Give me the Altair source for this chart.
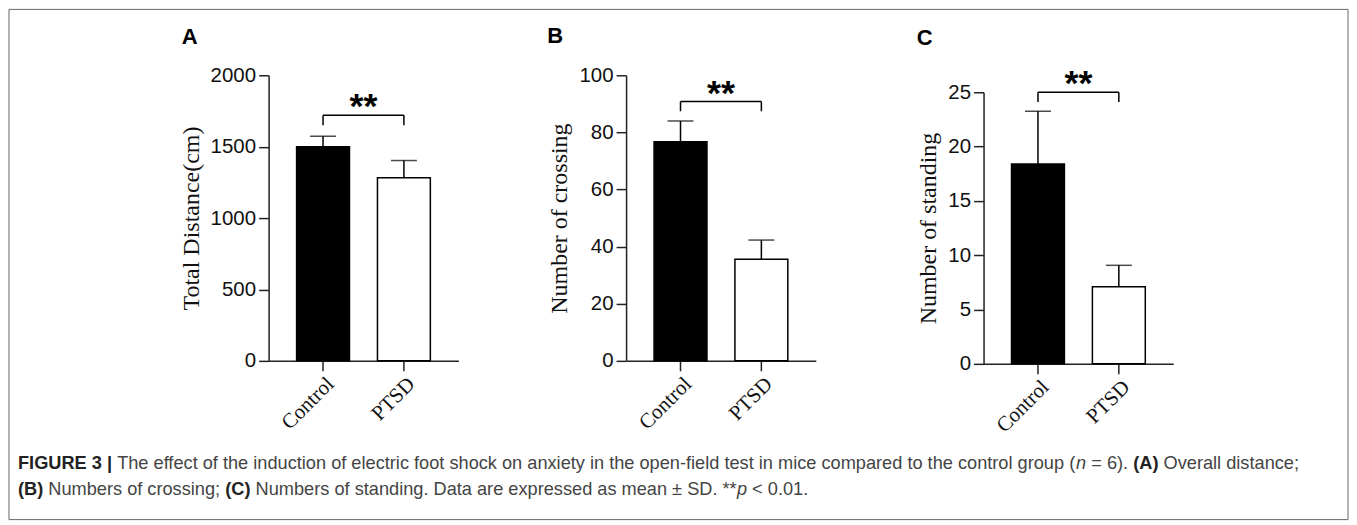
import altair as alt
import pandas as pd

groups = ["Control", "PTSD"]
bar_fill = ["black", "white"]

a_mean = [1500, 1282]
a_sd = [73, 121]
b_mean = [76.7, 35.6]
b_sd = [7.3, 6.7]
c_mean = [18.4, 7.1]
c_sd = [4.85, 1.97]

a_ticks = [0, 500, 1000, 1500, 2000]
b_ticks = [0, 20, 40, 60, 80, 100]
c_ticks = [0, 5, 10, 15, 20, 25]

# significance brackets: (line level, tick bottom)
a_bracket = [1720, 1650]
b_bracket = [90.8, 87.4]
c_bracket = [25.0, 24.1]
star_text = "**"

caption_line1 = [
    ("FIGURE 3 |", "bold", "normal"),
    (" The effect of the induction of electric foot shock on anxiety in the open-field test in mice compared to the control group (", "normal", "normal"),
    ("n", "normal", "italic"),
    (" = 6). ", "normal", "normal"),
    ("(A)", "bold", "normal"),
    (" Overall distance;", "normal", "normal"),
]
caption_line2 = [
    ("(B)", "bold", "normal"),
    (" Numbers of crossing; ", "normal", "normal"),
    ("(C)", "bold", "normal"),
    (" Numbers of standing. Data are expressed as mean \u00b1 SD. **", "normal", "normal"),
    ("p", "normal", "italic"),
    (" < 0.01.", "normal", "normal"),
]

# Arial / Liberation Sans advance widths (per 1000 em), to set caption segments side by side
REG = {" ": 278, "(": 333, ")": 333, "*": 389, ",": 278, "-": 333, ".": 278, ";": 278,
       "<": 584, "=": 584, "|": 260, "\u00b1": 549,
       "a": 556, "b": 556, "c": 500, "d": 556, "e": 556, "f": 278, "g": 556, "h": 556,
       "i": 222, "j": 222, "k": 500, "l": 222, "m": 833, "n": 556, "o": 556, "p": 556,
       "q": 556, "r": 333, "s": 500, "t": 278, "u": 556, "v": 500, "w": 722, "x": 500,
       "y": 500, "z": 500,
       "A": 667, "B": 667, "C": 722, "D": 722, "E": 667, "F": 611, "G": 778, "H": 722,
       "I": 278, "N": 722, "O": 778, "P": 667, "R": 722, "S": 667, "T": 611, "U": 722}
for d in "0123456789":
    REG[d] = 556
BOLD = dict(REG)
BOLD.update({"A": 722, "B": 722, "C": 722, "|": 280, "I": 278, "G": 778, "U": 722, "R": 722, "E": 667, "F": 611})
CAP_FONT = "Liberation Sans"


def em_width(text, weight):
    table = BOLD if weight == "bold" else REG
    return sum(table.get(ch, 556) for ch in text) / 1000.0


line1_em = sum(em_width(t, w) for t, w, s in caption_line1)
CAP_FS = 1283.0 / line1_em

# panel A's plot origin on the page is (268, 74)
OX, OY = 268, 74


def caption_layers():
    layers = []
    for segs, py in ((caption_line1, 463), (caption_line2, 489)):
        cursor = 17.0
        for text, weight, style in segs:
            lead = len(text) - len(text.lstrip(" "))
            x0 = cursor + em_width(" " * lead, weight) * CAP_FS
            cursor += em_width(text, weight) * CAP_FS
            layers.append(
                alt.Chart(pd.DataFrame({"t": [text.strip()]}))
                .mark_text(align="left", baseline="middle", font=CAP_FONT,
                           fontSize=CAP_FS, fontWeight=weight, fontStyle=style,
                           color="#222" if weight == "bold" else "#444")
                .encode(text="t:N", x=alt.value(x0 - OX), y=alt.value(py - OY))
            )
    border = (
        alt.Chart(pd.DataFrame({"k": [0]}))
        .mark_rect(fillOpacity=0, stroke="#666", strokeWidth=1)
        .encode(x=alt.value(8 - OX), x2=alt.value(1349 - OX),
                y=alt.value(8 - OY), y2=alt.value(519 - OY))
    )
    return [border] + layers


def panel(letter, letter_dx, letter_dy, ytitle, mean, sd, ymax, ticks, bracket, height, rng, extra=None):
    df = pd.DataFrame({
        "group": groups,
        "mean": mean,
        "upper": [m + s for m, s in zip(mean, sd)],
        "fill": bar_fill,
    })
    xscale = alt.Scale(domain=groups, paddingInner=0.346, paddingOuter=0.346)
    xaxis = alt.Axis(title=None, labelAngle=-45, labelAlign="right", labelBaseline="top",
                     labelFont="Liberation Serif", labelFontSize=21, labelColor="#111",
                     labelPadding=2, tickSize=10, tickWidth=1.5, tickColor="#222",
                     domainWidth=1.5, domainColor="#222", grid=False)
    yscale = alt.Scale(domain=[0, ymax], range=rng, nice=False, zero=True)
    yaxis = alt.Axis(title=ytitle, values=ticks, format="d", titleFont="Liberation Serif",
                     titleFontSize=24, titleFontWeight="normal", titleColor="#111",
                     titlePadding=7, labelFont="Liberation Sans", labelFontSize=20.5,
                     labelColor="#111", labelPadding=3, tickSize=10, tickWidth=1.5,
                     tickColor="#222", domainWidth=1.5, domainColor="#222", grid=False)

    def X(f):
        return alt.X(f, sort=groups, scale=xscale, axis=xaxis)

    def Y(f):
        return alt.Y(f, scale=yscale, axis=yaxis)

    base = alt.Chart(df)
    bars = base.mark_bar(stroke="black", strokeWidth=1.5).encode(
        x=X("group:N"), y=Y("mean:Q"), fill=alt.Fill("fill:N", scale=None))
    stems = base.mark_rule(color="black", strokeWidth=1.5).encode(
        x=X("group:N"), y=Y("mean:Q"), y2="upper:Q")
    caps = base.mark_tick(color="black", thickness=1.5, size=26).encode(
        x=X("group:N"), y=Y("upper:Q"))

    bdf = pd.DataFrame({"g1": [groups[0]], "g2": [groups[1]], "lvl": [bracket[0]], "txt": [star_text]})
    tdf = pd.DataFrame({"group": groups, "lo": [bracket[1]] * 2, "hi": [bracket[0]] * 2})
    br_line = alt.Chart(bdf).mark_rule(color="black", strokeWidth=1.5).encode(
        x=X("g1:N"), x2="g2:N", y=Y("lvl:Q"))
    br_ticks = alt.Chart(tdf).mark_rule(color="black", strokeWidth=1.5).encode(
        x=X("group:N"), y=Y("lo:Q"), y2="hi:Q")
    stars = alt.Chart(bdf).mark_text(font="Liberation Sans", fontSize=36, fontWeight="bold",
                                     baseline="alphabetic", align="center", dx=40.5, dy=3,
                                     color="black").encode(
        x=X("g1:N"), y=Y("lvl:Q"), text="txt:N")
    letter_mark = alt.Chart(pd.DataFrame({"t": [letter]})).mark_text(
        font="Liberation Sans", fontSize=22, fontWeight="bold", align="left",
        baseline="alphabetic", color="black").encode(
        text="t:N", x=alt.value(letter_dx), y=alt.value(letter_dy))

    layers = [bars, stems, caps, br_line, br_ticks, stars, letter_mark]
    if extra:
        layers += extra
    return alt.layer(*layers).properties(width=190, height=height)


pA = panel("A", -87, -31, "Total Distance(cm)", a_mean, a_sd, 2000, a_ticks, a_bracket,
           286, [286, 0], extra=caption_layers())
pB = panel("B", -79, -32, "Number of crossing", b_mean, b_sd, 100, b_ticks, b_bracket,
           286, [286, 0])
pC = panel("C", -67, -30, "Number of standing", c_mean, c_sd, 25, c_ticks, c_bracket,
           289, [289, 17])

chart = (
    alt.hconcat(pA, pB, pC, spacing=168, bounds="flush")
    .properties(padding=0, background="white")
    .configure_view(stroke=None)
)

chart.save("out.html", embed_options={"renderer": "svg", "actions": False})
